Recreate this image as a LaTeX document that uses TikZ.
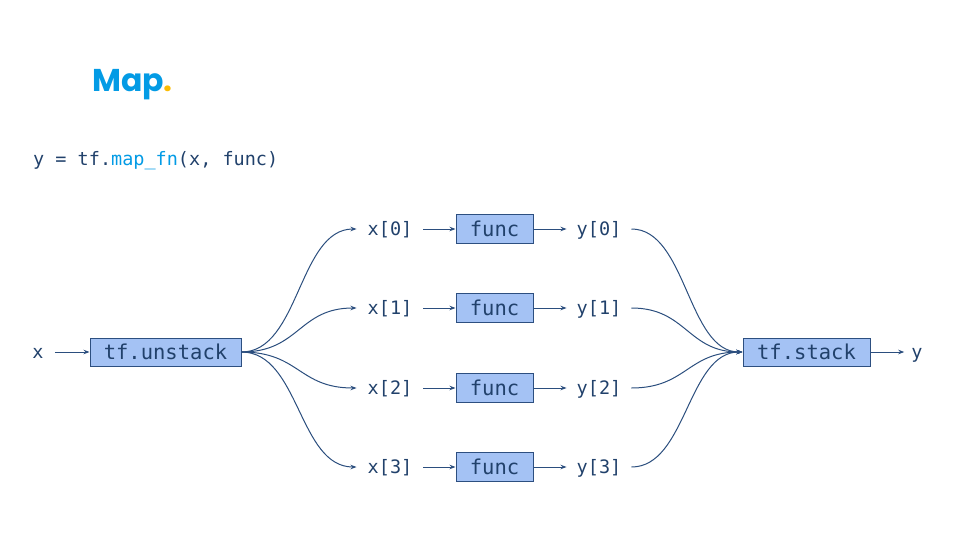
\documentclass[tikz,border=0pt]{standalone}
\usepackage{fontspec}
\setmonofont{DejaVu Sans Mono}
\newfontfamily\titlefont{Poppins}
\usetikzlibrary{arrows.meta}
\definecolor{ink}{HTML}{21416B}
\definecolor{wire}{HTML}{2B4E7E}
\definecolor{boxfill}{HTML}{A4C2F4}
\definecolor{boxline}{HTML}{2D4F80}
\definecolor{accent}{HTML}{039BE5}
\definecolor{dot}{HTML}{FBBC04}
\tikzset{
  lbl/.style={font=\ttfamily\fontsize{18.5}{22}\selectfont, text=ink, inner xsep=11pt, inner ysep=2pt,
    text height=16pt, text depth=3pt},
  opbox/.style={draw=boxline, line width=1pt, fill=boxfill, font=\ttfamily\fontsize{20.5}{24}\selectfont,
    text=ink, minimum height=28pt, inner sep=0pt},
  arr/.style={draw=wire, line width=1pt, -{Stealth[length=6pt,width=4.5pt]}},
}
\begin{document}
\begin{tikzpicture}[x=1pt,y=-1pt]
\useasboundingbox (0,0) rectangle (960,540);

% heading and the expression being illustrated
\node[anchor=base west, inner sep=0pt, font=\titlefont\bfseries\fontsize{31.5}{36}\selectfont, text=accent]
  (title) at (92,92) {Map\textcolor{dot}{.}};
\node[anchor=base west, inner sep=0pt, font=\ttfamily\fontsize{18.5}{22}\selectfont, text=ink]
  (code) at (33,166) {y = tf.\textcolor{accent}{map\_fn}(x, func)};

% input, splitting and stacking operations
\node[lbl] (x) at (38,352) {x};
\node[opbox, minimum width=151pt] (unstack) at (165.5,352) {tf.unstack};
\node[opbox, minimum width=127pt] (stack) at (806.5,352) {tf.stack};
\node[lbl, inner xsep=7pt] (y) at (917,352) {y};

\draw[arr] (x) -- (unstack);
\draw[arr] (stack) -- (y);

% one branch per element
\foreach \i/\yy in {0/229,1/308,2/388,3/467}{
  \node[lbl] (x\i) at (390,\yy) {x[\i]};
  \node[opbox, minimum width=77pt, minimum height=29pt] (f\i) at (494.5,\yy) {func};
  \node[lbl, inner xsep=10pt] (y\i) at (599,\yy) {y[\i]};
  \draw[arr] (x\i) -- (f\i);
  \draw[arr] (f\i) -- (y\i);
  \draw[arr] (unstack.east) .. controls +(58,0) and +(-58,0) .. (x\i.west);
  \draw[arr] (y\i.east) .. controls +(55,0) and +(-55,0) .. (stack.west);
}
\end{tikzpicture}
\end{document}
